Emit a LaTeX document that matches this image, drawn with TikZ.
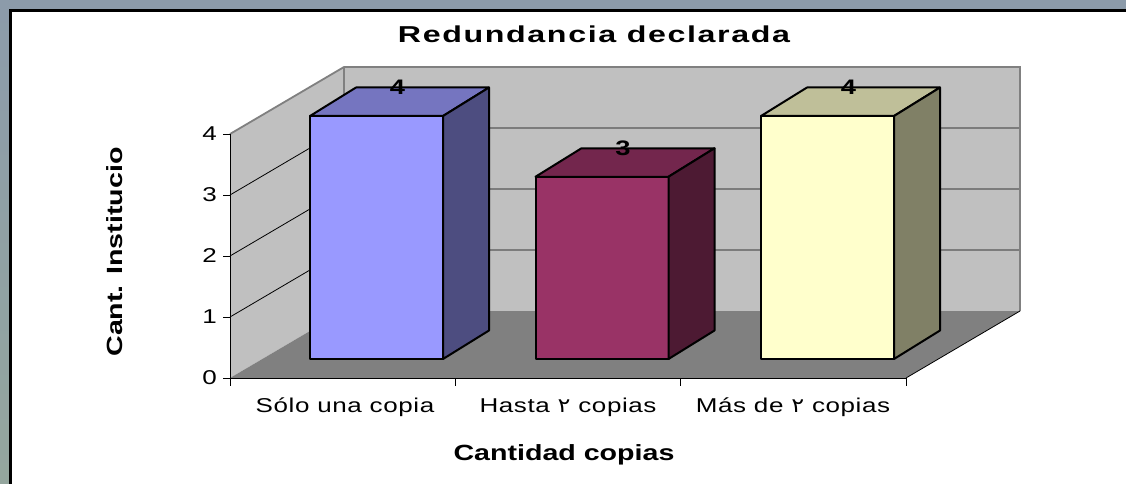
\documentclass[tikz,border=0pt]{standalone}
\usepackage{fontspec}
\setmainfont{Liberation Sans}
\newfontfamily\rfont[FakeStretch=1.3,LetterSpace=3]{Liberation Sans}
\newfontfamily\bfont[FakeStretch=1.3]{Liberation Sans}
\newfontfamily\tfont[FakeStretch=1.4,LetterSpace=7]{Liberation Sans}
\newfontfamily\arfont[FakeStretch=1.2]{DejaVu Sans}
\definecolor{topbg}{RGB}{140,155,170}
\definecolor{leftbg}{RGB}{148,166,158}
\definecolor{wall}{RGB}{192,192,192}
\definecolor{floorc}{RGB}{128,128,128}
\definecolor{edgec}{RGB}{128,128,128}
\definecolor{b1f}{HTML}{9999FF}
\definecolor{b1t}{HTML}{7575C0}
\definecolor{b1s}{HTML}{4D4D80}
\definecolor{b2f}{HTML}{993366}
\definecolor{b2t}{HTML}{73264D}
\definecolor{b2s}{HTML}{4D1A33}
\definecolor{b3f}{HTML}{FFFFCC}
\definecolor{b3t}{HTML}{BFBF99}
\definecolor{b3s}{HTML}{808066}
\tikzset{
  grid line/.style={black, line width=0.8pt},
  wall edge/.style={edgec, line width=1.8pt},
  bar face/.style={draw=black, line width=2pt, line join=round},
  ticklab/.style={font=\rfont\fontsize{20}{24}\selectfont, inner sep=0pt},
  catlab/.style={font=\rfont\fontsize{20}{24}\selectfont, inner sep=0pt},
  vallab/.style={font=\bfont\bfseries\fontsize{21}{24}\selectfont, inner sep=0pt},
  axtitle/.style={font=\bfont\bfseries\fontsize{22}{26}\selectfont, inner sep=0pt},
  maintitle/.style={font=\tfont\bfseries\fontsize{23}{27}\selectfont, inner sep=0pt}
}
\begin{document}
\begin{tikzpicture}[x=1pt,y=-1pt]
\useasboundingbox (0,0) rectangle (1126,484);
% frame
\fill[topbg] (0,0) rectangle (1126,484);
\shade[top color=topbg, bottom color=leftbg] (0,0) rectangle (10,484);
\fill[white] (10.5,10.5) rectangle (1126,484);
\draw[line width=3pt] (10.5,484) -- (10.5,10.5) -- (1126,10.5);
% walls and floor
\fill[wall] (230,378) -- (230,134) -- (344,67) -- (344,311) -- cycle;
\fill[wall] (344,67) rectangle (1020,311);
\fill[floorc] (230,378) -- (906,378) -- (1020,311) -- (344,311) -- cycle;
\foreach \k in {1,2,3} {
  \draw[grid line] (230,378-61*\k) -- (344,311-61*\k) -- (1020,311-61*\k);
}
\draw[wall edge] (230,134) -- (344,67) -- (1020,67) -- (1020,311);
\draw[wall edge] (344,67) -- (344,311);
\draw[grid line] (906,378) -- (1020,311);
% axes
\draw[black, line width=1pt] (230,134) -- (230,378) -- (906,378);
\foreach \k in {0,...,4} {
  \draw[black, line width=1pt] (223,378-61*\k) -- (230,378-61*\k);
  \node[ticklab, anchor=east] (t\k) at (217,378-61*\k) {\k};
}
\foreach \x in {230,455.3,680.7,906} {
  \draw[black, line width=1pt] (\x,378) -- (\x,386);
}
% bars
\foreach \i/\v/\cf/\ct/\cs in {0/4/b1f/b1t/b1s, 1/3/b2f/b2t/b2s, 2/4/b3f/b3t/b3s} {
  \pgfmathsetmacro\xa{310+225.5*\i}
  \pgfmathsetmacro\xb{\xa+133}
  \pgfmathsetmacro\yt{359-60.75*\v}
  \pgfmathsetmacro\xc{\xb+46}
  \pgfmathsetmacro\xd{\xa+46}
  \pgfmathsetmacro\ytb{\yt-28.5}
  \pgfmathsetmacro\xm{\xa+66.5+21}
  \draw[bar face, fill=\cf] (\xa,359) rectangle (\xb,\yt);
  \draw[bar face, fill=\ct] (\xa,\yt) -- (\xb,\yt) -- (\xc,\ytb) -- (\xd,\ytb) -- cycle;
  \draw[bar face, fill=\cs] (\xb,359) -- (\xb,\yt) -- (\xc,\ytb) -- (\xc,330.5) -- cycle;
  \node[vallab] (v\i) at (\xm,\ytb) {\v};
}
% labels
\node[catlab] (c1) at (345,407) {Sólo una copia};
\node[catlab] (c2) at (568,407) {Hasta {\arfont ٢} copias};
\node[catlab] (c3) at (793,407) {Más de {\arfont ٢} copias};
\node[maintitle] (title) at (594,34) {Redundancia declarada};
\node[axtitle, rotate=90] (ytitle) at (115,252) {Cant. Institucio};
\node[axtitle] (xtitle) at (564,455) {Cantidad copias};
\end{tikzpicture}
\end{document}
